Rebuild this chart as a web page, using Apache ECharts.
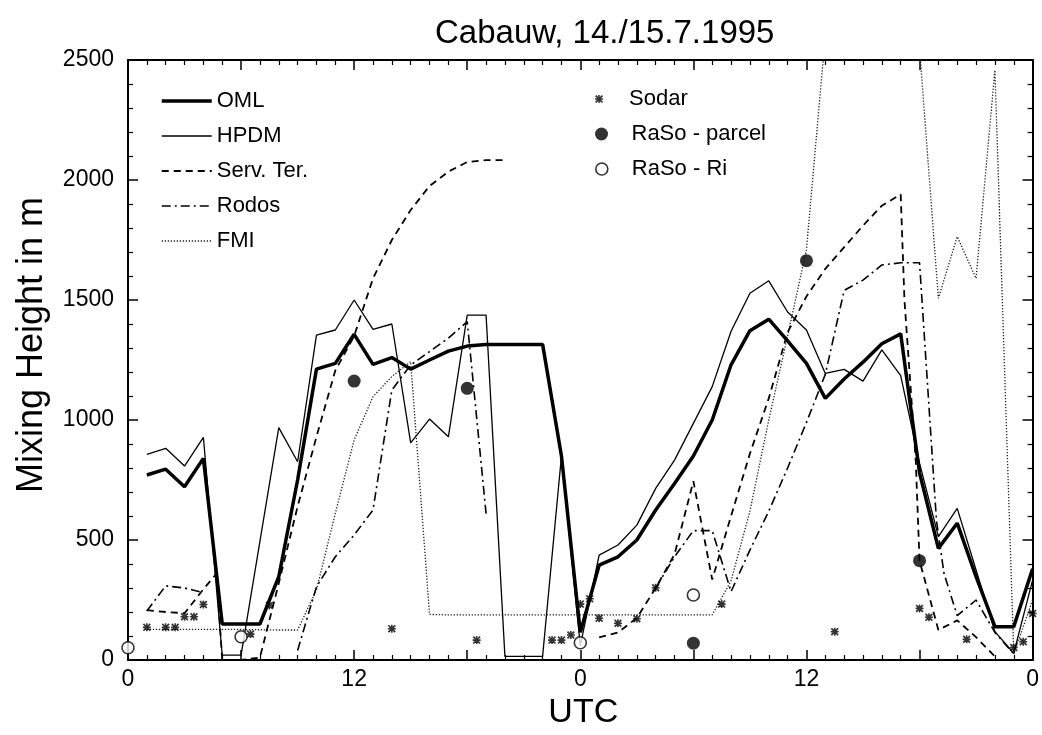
<!DOCTYPE html>
<html>
<head>
<meta charset="utf-8">
<script src="https://cdn.jsdelivr.net/npm/echarts@6/dist/echarts.min.js"></script>
<style>
html,body{margin:0;padding:0;background:#fff;}
#chart{width:1042px;height:735px;}
</style>
</head>
<body>
<div id="chart"></div>
<script>
// ---- data: [hour since 14.7. 00 UTC, mixing height in m] ----
const omlData = [[1,771],[2,795],[3,722],[4,840],[5,150],[6,150],[7,150],[8,347],[9,750],[10,1212],[11,1236],[12,1357],[13,1232],[14,1260],[15,1212],[16,1250],[17,1287],[18,1308],[19,1315],[20,1315],[21,1315],[22,1315],[23,850],[24,115],[25,395],[26,430],[27,500],[28,625],[29,735],[30,850],[31,1000],[32,1230],[33,1372],[34,1420],[35,1330],[36,1236],[37,1090],[38,1171],[39,1241],[40,1318],[41,1359],[42,780],[43,465],[44,570],[45,347],[46,139],[47,139],[48,380]];
const hpdmData = [[1,857],[2,882],[3,808],[4,928],[5,20],[6,20],[8,968],[9,826],[10,1354],[11,1375],[12,1500],[13,1378],[14,1400],[15,905],[16,1004],[17,930],[18,1437],[19,1437],[20,15],[21,15],[22,15],[23,850],[24,60],[25,437],[26,479],[27,562],[28,715],[29,833],[30,986],[31,1139],[32,1370],[33,1528],[34,1580],[35,1450],[36,1375],[37,1194],[38,1211],[39,1162],[40,1292],[41,1185],[42,820],[43,514],[44,632],[45,375],[46,118],[47,28],[48,333]];
const servTerData = [[1,208],[2,200],[3,195],[4,295],[4.7,360],[5,0],[6,0],[7,10],[8,320],[9,640],[10,930],[11,1206],[12,1350],[13,1590],[14,1750],[15,1875],[16,1975],[17,2035],[18,2075],[19,2083],[20,2083],['-','-'],[25,94],[26,115],[27,175],[28,300],[29,440],[30,745],[31,335],[32,600],[33,860],[34,1090],[35,1365],[36,1515],[37,1630],[38,1720],[39,1810],[40,1893],[41,1940],[41.2,1500],[41.8,830],[42,414],[43,125],[44,165],[45,95],[46,15]];
const rodosData = [[1,204],[2,309],[3,300],[4,281],['-','-'],[9,40],[10,305],[11,430],[12,521],[13,625],[14,1125],[15,1229],[16,1285],[17,1341],[18,1410],[19,610],['-','-'],[28,300],[29,430],[30,539],[31,539],[32,285],[33,458],[34,620],[35,800],[36,990],[37,1190],[38,1540],[39,1583],[40,1646],[41,1655],[42,1655],[42.9,580],[43.3,360],[44,185],[45,250],[46,115],[47,25]];
const fmiData = [[1,128],[2,128],[3,128],[4,128],[5,128],[6,127],[7,126],[8,125],[9,125],[10,292],[11,611],[12,917],[13,1097],[14,1181],[15,1243],[16,190],[17,188],[18,188],[19,188],[20,188],[21,188],[22,188],[23,188],[24,188],[25,188],[26,188],[27,188],[28,188],[29,188],[30,188],[31,188],[32,330],[33,620],[34,1000],[35,1350],[36,1710],[37,2600],[38,2700],[39,2700],[40,2700],[41,2700],[42,2550],[43,1507],[44,1764],[45,1590],[46,2458],[47,25],[48,250]];
const sodarData = [[1,136],[2,136],[2.5,136],[3,180],[3.5,180],[4,231],[6.5,108],[7.5,227],[14,130],[18.5,83],[22.5,83],[23,83],[23.5,104],[24,233],[24.5,255],[25,174],[26,153],[27,172],[28,301],[31.5,233],[37.5,118],[42,215],[42.5,178],[44.5,86],[47,52],[47.5,76],[48,194]];
const rasoParcelData = [[12,1162],[18,1132],[30,70],[36,1664],[42,414]];
const rasoRiData = [[0,51],[6,97],[24,72],[30,271]];
const xTickLabels = {0:'0',12:'12',24:'0',36:'12',48:'0'};
const yTicks = {min:0,max:2500,interval:500};

const FONT = 'Liberation Sans, Arial, sans-serif';
const BLACK = '#000';
const sodarSymbol = 'path://M0,1.5L1.5,0L5,3.5L8.5,0L10,1.5L6.5,5L10,8.5L8.5,10L5,6.5L1.5,10L0,8.5L3.5,5Z M4,0H6V4H10V6H6V10H4V6H0V4H4Z';

const axisLineStyle = {show:true,onZero:false,lineStyle:{color:BLACK,width:2}};
const axisTickStyle = {show:true,inside:true,length:10,lineStyle:{color:BLACK,width:1.5}};
function minor(n){return {show:true,splitNumber:n,length:5,lineStyle:{color:BLACK,width:1.2}};}
const legendText = {fontFamily:FONT,fontSize:22,color:BLACK};

const chart = echarts.init(document.getElementById('chart'));
chart.setOption({
  animation:false,
  backgroundColor:'#fff',
  textStyle:{fontFamily:FONT,color:BLACK},
  title:{text:'Cabauw, 14./15.7.1995',left:430,top:12,
    textStyle:{fontFamily:FONT,fontSize:33,fontWeight:'normal',color:BLACK}},
  grid:{left:128,right:5,top:60,bottom:75},
  legend:[
    {orient:'vertical',left:155,top:85,itemWidth:50,itemHeight:14,itemGap:13,selectedMode:false,
     itemStyle:{opacity:0,borderWidth:0},
     lineStyle:{width:'inherit'},
     textStyle:legendText,
     data:[{name:'OML',lineStyle:{width:3.5}},'HPDM','Serv. Ter.','Rodos','FMI']},
    {left:590,top:83,itemWidth:50,itemHeight:8,selectedMode:false,
     textStyle:legendText,data:['Sodar']},
    {left:590,top:118,itemWidth:50,itemHeight:13,selectedMode:false,
     textStyle:legendText,data:['RaSo - parcel']},
    {left:590,top:153,itemWidth:50,itemHeight:12,selectedMode:false,
     textStyle:legendText,
     data:[{name:'RaSo - Ri',itemStyle:{color:'#fff',borderColor:BLACK,borderWidth:1.6}}]}
  ],
  xAxis:[
    {type:'value',position:'bottom',min:0,max:48,interval:6,
      axisLine:axisLineStyle,axisTick:axisTickStyle,minorTick:minor(6),splitLine:{show:false},
      axisLabel:{show:true,margin:8,fontSize:23,color:BLACK,fontFamily:FONT,
        formatter:function(v){return xTickLabels[v]!==undefined?xTickLabels[v]:'';}},
      name:'UTC',nameLocation:'middle',nameGap:31,
      nameTextStyle:{fontSize:34,color:BLACK,fontFamily:FONT,padding:[0,0,0,6]}},
    {type:'value',position:'top',min:0,max:48,interval:6,
      axisLine:axisLineStyle,axisTick:axisTickStyle,minorTick:minor(6),splitLine:{show:false},
      axisLabel:{show:false}}
  ],
  yAxis:[
    {type:'value',position:'left',min:yTicks.min,max:yTicks.max,interval:yTicks.interval,
      axisLine:axisLineStyle,axisTick:axisTickStyle,minorTick:minor(5),splitLine:{show:false},
      axisLabel:{show:true,margin:14,fontSize:23,color:BLACK,fontFamily:FONT,
        formatter:function(v){return String(v);}},
      name:'Mixing Height in m',nameLocation:'middle',nameGap:78,
      nameTextStyle:{fontSize:36,color:BLACK,fontFamily:FONT,padding:[0,0,0,30]}},
    {type:'value',position:'right',min:yTicks.min,max:yTicks.max,interval:yTicks.interval,
      axisLine:axisLineStyle,axisTick:axisTickStyle,minorTick:minor(5),splitLine:{show:false},
      axisLabel:{show:false}}
  ],
  series:[
    {name:'OML',type:'line',data:omlData,symbol:'none',z:6,
     lineStyle:{color:BLACK,width:3.5},itemStyle:{color:BLACK}},
    {name:'HPDM',type:'line',data:hpdmData,symbol:'none',z:5,
     lineStyle:{color:BLACK,width:1.3},itemStyle:{color:BLACK}},
    {name:'Serv. Ter.',type:'line',data:servTerData,symbol:'none',z:4,
     lineStyle:{color:BLACK,width:1.8,type:[7,5]},itemStyle:{color:BLACK}},
    {name:'Rodos',type:'line',data:rodosData,symbol:'none',z:4,
     lineStyle:{color:BLACK,width:1.6,type:[9,4,2,4]},itemStyle:{color:BLACK}},
    {name:'FMI',type:'line',data:fmiData,symbol:'none',z:3,
     lineStyle:{color:'#222',width:1.3,type:[1.3,1.7]},itemStyle:{color:'#222'}},
    {name:'Sodar',type:'scatter',data:sodarData,symbol:sodarSymbol,symbolSize:8,z:7,
     itemStyle:{color:'#000'}},
    {name:'RaSo - parcel',type:'scatter',data:rasoParcelData,symbol:'circle',symbolSize:13,z:8,
     itemStyle:{color:BLACK}},
    {name:'RaSo - Ri',type:'scatter',data:rasoRiData,symbol:'circle',symbolSize:12,z:8,clip:false,
     itemStyle:{color:'#fff',borderColor:BLACK,borderWidth:1.6}}
  ]
});
</script>
</body>
</html>
